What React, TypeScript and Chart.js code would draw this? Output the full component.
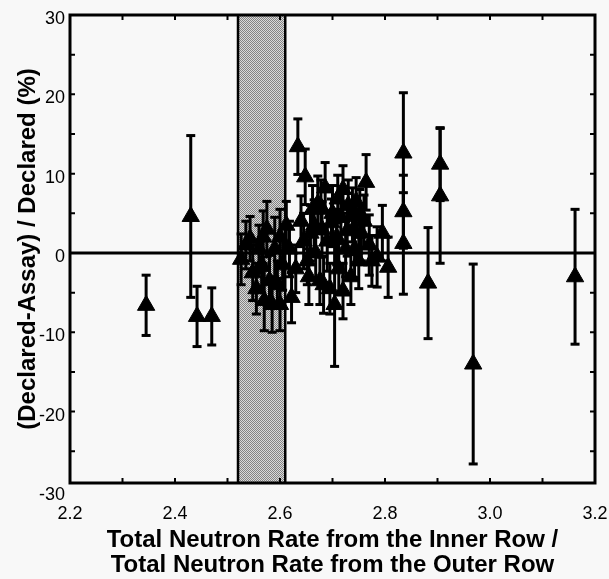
import React, { useEffect, useRef } from 'react';
import { Chart, registerables } from 'chart.js';

Chart.register(...registerables);

// ---- data ----
const xValues = [
  2.345, 2.43, 2.442, 2.47,
  2.526, 2.535, 2.543, 2.548, 2.555, 2.56, 2.565, 2.57, 2.575, 2.58, 2.585, 2.59, 2.595, 2.6, 2.605,
  2.612, 2.618, 2.622, 2.63, 2.634, 2.64, 2.648, 2.652, 2.658, 2.662, 2.668, 2.672, 2.676, 2.68,
  2.686, 2.69, 2.695, 2.7, 2.704, 2.708, 2.712, 2.716, 2.72, 2.725, 2.73, 2.735, 2.74, 2.745, 2.75,
  2.755, 2.764, 2.77, 2.775, 2.785, 2.795, 2.806,
  2.645, 2.665, 2.678, 2.698, 2.728, 2.742, 2.76, 2.72,
  2.655, 2.683, 2.71, 2.738, 2.752, 2.568, 2.6,
  2.835, 2.835, 2.835, 2.882, 2.905, 2.905, 2.968, 3.162,
];
const yValues = [
  -6.6, 4.6, -8.0, -8.0,
  -0.8, 1.0, 1.8, -2.5, -4.5, 0.5, -1.5, -6.0, 3.0, -3.5, -6.5, 0.5, -4.0, 2.0, -1.5,
  3.5, 0.5, -5.6, -2.0, 13.4, 4.0, 9.6, -1.0, 2.5, 5.5, 0.0, 6.2, -3.5, 3.0,
  8.2, 1.5, -4.5, 5.0, -6.5, 2.0, -2.0, 4.5, 8.0, 0.5, 6.0, -3.0, 3.0, 6.5, -1.0,
  2.5, 8.9, 1.0, -1.0, -0.5, 2.5, -1.8,
  1.5, 3.5, 5.8, 3.8, 2.8, 0.5, 4.0, -4.8,
  -3.0, -4.0, 6.8, 4.8, 5.0, 2.0, -6.5,
  12.6, 5.2, 1.2, -3.8, 11.2, 7.2, -14.0, -3.0,
];
const yErrors = [
  3.8, 10.2, 3.8, 3.6,
  3.2, 3.0, 2.8, 3.5, 3.2, 3.0, 3.5, 3.8, 3.5, 3.2, 3.5, 4.0, 3.0, 3.5, 3.2,
  3.0, 3.5, 3.2, 3.0, 3.5, 3.2, 3.5, 3.0, 3.5, 3.0, 3.2, 3.5, 3.0, 3.5,
  3.2, 3.8, 3.2, 3.5, 7.8, 3.5, 3.2, 3.2, 3.0, 3.5, 3.2, 3.5, 3.2, 3.0, 3.5,
  3.5, 3.5, 3.8, 3.2, 3.8, 3.5, 3.8,
  3.5, 3.2, 3.4, 3.0, 3.2, 3.6, 3.3, 3.5,
  3.5, 3.6, 3.0, 3.4, 3.0, 3.3, 3.3,
  7.6, 4.6, 6.4, 7.0, 4.6, 8.5, 12.6, 8.5,
];
const xTicks = [2.2, 2.4, 2.6, 2.8, 3.0, 3.2];
const yTicks = [30, 20, 10, 0, -10, -20, -30];
const xMinorTicks = [2.3, 2.4, 2.5, 2.6, 2.7, 2.8, 2.9, 3.0, 3.1];
const yMinorTicks = [25, 20, 15, 10, 5, 0, -5, -10, -15, -20, -25];
const bandRange = [2.52, 2.61];
const referenceY = 0;
const xTitle = ['Total Neutron Rate from the Inner Row /', 'Total Neutron Rate from the Outer Row'];
const yTitle = '(Declared-Assay) / Declared (%)';

const FONT = "'Liberation Sans', Arial, Helvetica, sans-serif";

function makePattern(ctx: CanvasRenderingContext2D) {
  const c = document.createElement('canvas');
  c.width = 2;
  c.height = 2;
  const p = c.getContext('2d')!;
  p.fillStyle = '#dadada';
  p.fillRect(0, 0, 2, 2);
  p.fillStyle = '#848484';
  p.fillRect(0, 0, 1, 1);
  p.fillRect(1, 1, 1, 1);
  return ctx.createPattern(c, 'repeat');
}

const decorPlugin = {
  id: 'decor',
  beforeDraw(chart: any) {
    const { ctx, width, height } = chart;
    ctx.save();
    ctx.fillStyle = '#f8f8f8';
    ctx.fillRect(0, 0, width, height);
    ctx.restore();
  },
  beforeDatasetsDraw(chart: any) {
    const { ctx, chartArea, scales } = chart;
    const { left, right, top, bottom } = chartArea;
    const xs = scales.x;
    const ys = scales.y;
    ctx.save();
    // shaded band
    const bx0 = xs.getPixelForValue(bandRange[0]);
    const bx1 = xs.getPixelForValue(bandRange[1]);
    ctx.fillStyle = makePattern(ctx) || '#b0b0b0';
    ctx.fillRect(bx0, top, bx1 - bx0, bottom - top);
    ctx.strokeStyle = '#000';
    ctx.lineWidth = 2.5;
    ctx.beginPath();
    ctx.moveTo(bx0, top);
    ctx.lineTo(bx0, bottom);
    ctx.moveTo(bx1, top);
    ctx.lineTo(bx1, bottom);
    ctx.stroke();
    // zero line
    const zy = ys.getPixelForValue(referenceY);
    ctx.lineWidth = 3;
    ctx.beginPath();
    ctx.moveTo(left, zy);
    ctx.lineTo(right, zy);
    ctx.stroke();
    // error bars
    ctx.lineWidth = 3;
    ctx.fillStyle = '#000';
    for (let i = 0; i < xValues.length; i++) {
      const px = xs.getPixelForValue(xValues[i]);
      const py0 = ys.getPixelForValue(yValues[i] + yErrors[i]);
      const py1 = ys.getPixelForValue(yValues[i] - yErrors[i]);
      ctx.beginPath();
      ctx.moveTo(px, py0);
      ctx.lineTo(px, py1);
      ctx.stroke();
      ctx.fillRect(px - 4.5, py0 - 1.5, 9, 3);
      ctx.fillRect(px - 4.5, py1 - 1.5, 9, 3);
    }
    ctx.restore();
  },
  afterDatasetsDraw(chart: any) {
    const { ctx, chartArea, scales } = chart;
    const { left, right, top, bottom } = chartArea;
    const xs = scales.x;
    const ys = scales.y;
    ctx.save();
    ctx.strokeStyle = '#000';
    ctx.lineWidth = 3;
    ctx.strokeRect(left, top, right - left, bottom - top);
    ctx.lineWidth = 2;
    ctx.beginPath();
    for (const v of xMinorTicks) {
      const px = xs.getPixelForValue(v);
      ctx.moveTo(px, top);
      ctx.lineTo(px, top + 5);
      ctx.moveTo(px, bottom);
      ctx.lineTo(px, bottom - 5);
    }
    for (const v of yMinorTicks) {
      const py = ys.getPixelForValue(v);
      ctx.moveTo(left, py);
      ctx.lineTo(left + 5, py);
      ctx.moveTo(right, py);
      ctx.lineTo(right - 5, py);
    }
    ctx.stroke();
    ctx.restore();
  },
};

export default function App() {
  const canvasRef = useRef<HTMLCanvasElement | null>(null);

  useEffect(() => {
    const canvas = canvasRef.current;
    if (!canvas) return;
    const points = xValues.map((x, i) => ({ x, y: yValues[i] }));
    const chart = new Chart(canvas, {
      type: 'scatter',
      data: {
        datasets: [
          {
            data: points,
            pointStyle: 'triangle',
            pointRadius: 10,
            pointBackgroundColor: '#000',
            pointBorderColor: '#000',
            pointBorderWidth: 1,
          },
        ],
      },
      options: {
        responsive: false,
        animation: false,
        devicePixelRatio: 1,
        layout: { padding: { top: 15, right: 14, left: 0, bottom: 0 } },
        plugins: { legend: { display: false }, tooltip: { enabled: false } },
        scales: {
          x: {
            type: 'linear',
            min: 2.2,
            max: 3.2,
            afterBuildTicks: (s: any) => {
              s.ticks = xTicks.map((v) => ({ value: v }));
            },
            afterFit: (s: any) => {
              s.height = 96;
              s.paddingLeft = 0;
              s.paddingRight = 0;
            },
            grid: { display: false, drawTicks: false },
            border: { display: false },
            ticks: {
              color: '#000',
              font: { family: FONT, size: 18 },
              padding: 20,
              maxRotation: 0,
              autoSkip: false,
              callback: (v: any) => Number(v).toFixed(1),
            },
            title: {
              display: true,
              text: xTitle,
              color: '#000',
              font: { family: FONT, size: 24, weight: 'bold', lineHeight: 1.05 },
              padding: { top: 0, bottom: 1 },
            },
          },
          y: {
            type: 'linear',
            min: -29,
            max: 30,
            afterBuildTicks: (s: any) => {
              s.ticks = yTicks.map((v) => ({ value: v }));
            },
            afterFit: (s: any) => {
              s.width = 70;
              s.paddingTop = 0;
              s.paddingBottom = 0;
            },
            grid: { display: false, drawTicks: false },
            border: { display: false },
            ticks: {
              color: '#000',
              font: { family: FONT, size: 18 },
              padding: 5,
              labelOffset: 4,
              autoSkip: false,
            },
            title: {
              display: true,
              text: yTitle,
              color: '#000',
              font: { family: FONT, size: 24, weight: 'bold' },
              padding: { top: 14, bottom: 0 },
            },
          },
        },
      },
      plugins: [decorPlugin],
    } as any);
    return () => chart.destroy();
  }, []);

  return (
    <div style={{ position: 'absolute', left: 0, top: 0, width: 609, height: 579 }}>
      <canvas ref={canvasRef} width={609} height={579} style={{ width: 609, height: 579, display: 'block' }} />
    </div>
  );
}
